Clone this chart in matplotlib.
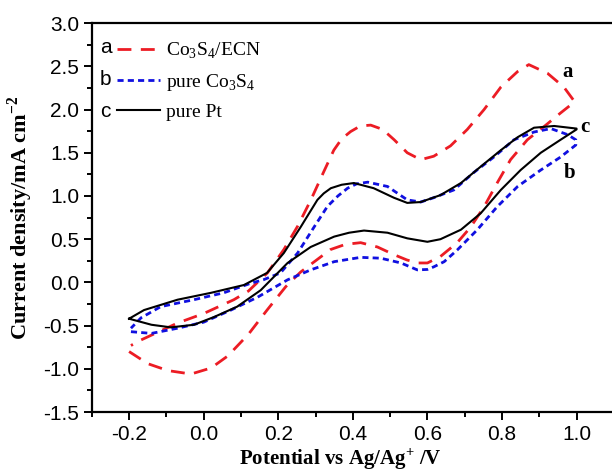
import matplotlib
matplotlib.use("Agg")
from matplotlib import pyplot as plt
from matplotlib.ticker import MultipleLocator, FormatStrFormatter

plt.rcParams['mathtext.fontset'] = 'custom'
plt.rcParams['mathtext.rm'] = 'Liberation Serif'
plt.rcParams['mathtext.bf'] = 'Liberation Serif:bold'

# CV loops: forward scan then reverse scan, potential in V, current in mA cm-2
a_fwd_x = [-0.20, -0.15, -0.096, -0.034, 0.02, 0.065, 0.12, 0.17, 0.22, 0.26, 0.30, 0.34, 0.38,
           0.421, 0.466, 0.511, 0.545, 0.573, 0.60, 0.635, 0.68, 0.716, 0.752, 0.787, 0.823,
           0.868, 0.912, 0.957, 0.995]
a_fwd_y = [-0.80, -0.94, -1.02, -1.06, -0.99, -0.85, -0.60, -0.32, -0.05, 0.12, 0.25, 0.38, 0.44,
           0.46, 0.41, 0.32, 0.26, 0.225, 0.225, 0.30, 0.46, 0.64, 0.875, 1.15, 1.42,
           1.65, 1.80, 1.96, 2.09]
a_rev_x = [0.995, 0.966, 0.922, 0.872, 0.842, 0.797, 0.752, 0.707, 0.662, 0.617, 0.582, 0.546,
           0.511, 0.48, 0.448, 0.42, 0.394, 0.37, 0.349, 0.322, 0.287, 0.252, 0.215, 0.171, 0.12,
           0.081, 0.0, -0.07, -0.12, -0.17, -0.195]
a_rev_y = [2.09, 2.26, 2.42, 2.52, 2.44, 2.26, 2.0, 1.77, 1.58, 1.46, 1.42, 1.50,
           1.65, 1.77, 1.82, 1.81, 1.745, 1.66, 1.53, 1.28, 0.95, 0.65, 0.38, 0.11, -0.10,
           -0.20, -0.36, -0.47, -0.57, -0.67, -0.73]

b_fwd_x = [-0.195, -0.14, -0.07, 0.0, 0.073, 0.145, 0.225, 0.287, 0.35, 0.421, 0.475, 0.529,
           0.573, 0.60, 0.617, 0.645, 0.68, 0.734, 0.787, 0.842, 0.904, 0.957, 0.998]
b_fwd_y = [-0.57, -0.59, -0.53, -0.46, -0.32, -0.17, 0.03, 0.145, 0.24, 0.29, 0.28, 0.225,
           0.145, 0.15, 0.18, 0.24, 0.375, 0.61, 0.875, 1.11, 1.30, 1.45, 1.59]
b_rev_x = [0.998, 0.976, 0.931, 0.886, 0.832, 0.778, 0.724, 0.671, 0.617, 0.582, 0.546, 0.493,
           0.44, 0.41, 0.386, 0.36, 0.332, 0.296, 0.252, 0.206, 0.16, 0.126, 0.054, -0.026,
           -0.115, -0.168, -0.195]
b_rev_y = [1.65, 1.71, 1.78, 1.74, 1.65, 1.45, 1.27, 1.07, 0.98, 0.93, 0.955, 1.11,
           1.16, 1.14, 1.09, 1.00, 0.88, 0.64, 0.34, 0.11, 0.03, -0.01, -0.12, -0.20,
           -0.28, -0.41, -0.53]

c_fwd_x = [-0.20, -0.14, -0.088, -0.026, 0.028, 0.09, 0.153, 0.225, 0.287, 0.35, 0.39, 0.43,
           0.493, 0.546, 0.60, 0.635, 0.69, 0.743, 0.797, 0.85, 0.904, 0.957, 1.0]
c_fwd_y = [-0.42, -0.49, -0.52, -0.49, -0.40, -0.28, -0.09, 0.225, 0.41, 0.53, 0.575, 0.60,
           0.575, 0.51, 0.47, 0.50, 0.61, 0.80, 1.07, 1.30, 1.50, 1.65, 1.77]
c_rev_x = [1.0, 0.94, 0.886, 0.842, 0.797, 0.743, 0.69, 0.635, 0.582, 0.546, 0.51, 0.456, 0.403,
           0.37, 0.341, 0.322, 0.305, 0.26, 0.215, 0.17, 0.108, 0.02, -0.07, -0.16, -0.20]
c_rev_y = [1.78, 1.81, 1.79, 1.68, 1.53, 1.34, 1.15, 1.01, 0.93, 0.92, 0.98, 1.09, 1.15,
           1.13, 1.09, 1.03, 0.955, 0.64, 0.34, 0.11, -0.03, -0.12, -0.20, -0.32, -0.42]

letters = ['a', 'b', 'c']
labels = ['Co$_3$S$_4$/ECN', 'pure Co$_3$S$_4$', 'pure Pt']
colors = ['#ec1c24', '#1010e0', 'black']

fig = plt.figure(figsize=(6.12, 4.72), dpi=100)
ax = fig.add_axes([0.150, 0.127, 0.853, 0.824])

ax.plot(a_fwd_x + a_rev_x, a_fwd_y + a_rev_y, color=colors[0], lw=2.0,
        dashes=(5.0, 3.4), label=labels[0])
ax.plot(b_fwd_x + b_rev_x, b_fwd_y + b_rev_y, color=colors[1], lw=2.0,
        dashes=(2.2, 1.5), label=labels[1])
ax.plot(c_fwd_x + c_rev_x, c_fwd_y + c_rev_y, color=colors[2], lw=1.5, label=labels[2])

ax.set_xlim(-0.3, 1.1)
ax.set_ylim(-1.5, 3.0)
ax.xaxis.set_major_locator(MultipleLocator(0.2))
ax.xaxis.set_minor_locator(MultipleLocator(0.1))
ax.yaxis.set_major_locator(MultipleLocator(0.5))
ax.yaxis.set_minor_locator(MultipleLocator(0.25))
ax.tick_params(which='both', direction='out', width=1.4, top=False, right=False,
               labelsize=15, labelfontfamily='Liberation Sans')
ax.tick_params(which='major', length=6, pad=3)
ax.tick_params(which='minor', length=3.5)
ax.xaxis.set_major_formatter(FormatStrFormatter('%.1f'))
ax.yaxis.set_major_formatter(FormatStrFormatter('%.1f'))
for s in ax.spines.values():
    s.set_linewidth(1.6)

ax.set_xlabel(r'Potential vs Ag/Ag$^\mathbf{+}$ /V', fontsize=15, fontweight='bold',
              family='Liberation Serif')
ax.set_ylabel(r'Current density/mA cm$^\mathbf{-2}$', fontsize=16, fontweight='bold',
              family='Liberation Serif')
ax.xaxis.set_label_coords(0.477, -0.088)
ax.yaxis.set_label_coords(-0.108, 0.5)

leg = ax.legend(loc='upper left', frameon=False, handlelength=2.2,
                handletextpad=0.35, labelspacing=0.55, borderaxespad=0,
                bbox_to_anchor=(0.033, 0.975), prop={'family': 'Liberation Serif', 'size': 14})
for i, ch in enumerate(letters):
    ax.text(0.015, 0.938 - i * 0.083, ch, transform=ax.transAxes, fontsize=15,
            family='Liberation Sans', va='center', ha='left')

# curve tags at the right-hand turning point
ax.text(0.976, 2.44, 'a', fontsize=15, fontweight='bold', family='Liberation Serif',
        ha='center', va='center')
ax.text(0.981, 1.27, 'b', fontsize=15, fontweight='bold', family='Liberation Serif',
        ha='center', va='center')
ax.text(1.022, 1.80, 'c', fontsize=15, fontweight='bold', family='Liberation Serif',
        ha='center', va='center')

fig.savefig('out.png', dpi=100)
